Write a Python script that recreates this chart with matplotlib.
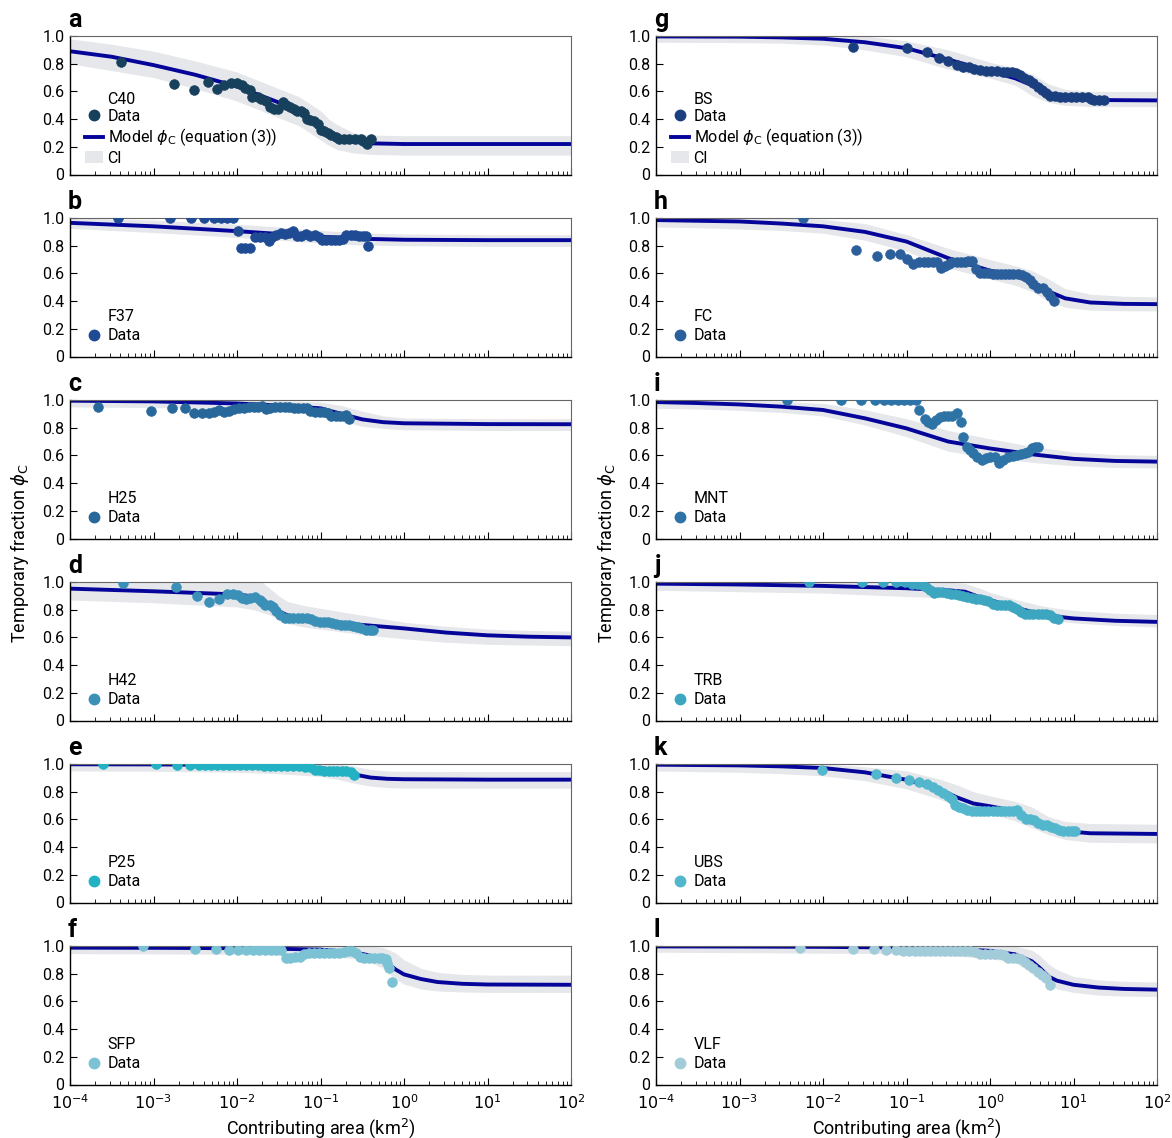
import numpy as np
import matplotlib
matplotlib.use('Agg')
import matplotlib.pyplot as plt
from matplotlib.lines import Line2D
from matplotlib.patches import Patch
from matplotlib.ticker import FixedLocator, NullFormatter

plt.rcParams['font.family'] = ['Roboto', 'DejaVu Sans']
plt.rcParams['mathtext.fontset'] = 'dejavusans'

# ---- data: log10 of contributing area (km2) and temporary fraction ----
a_logA = [-3.39, -2.76, -2.51, -2.35, -2.24, -2.15, -2.07, -2.00, -1.94, -1.90, -1.85, -1.82, -1.75, -1.71,
          -1.65, -1.60, -1.56, -1.51, -1.45, -1.41, -1.36, -1.32, -1.28, -1.23, -1.20, -1.16, -1.12, -1.08,
          -1.03, -1.00, -0.96, -0.91, -0.87, -0.82, -0.78, -0.72, -0.66, -0.59, -0.52, -0.49, -0.44, -0.40]
a_phi = [0.815, 0.655, 0.607, 0.67, 0.62, 0.647, 0.664, 0.66, 0.643, 0.628, 0.61, 0.56, 0.563, 0.547,
         0.528, 0.484, 0.475, 0.472, 0.523, 0.504, 0.49, 0.475, 0.456, 0.456, 0.444, 0.403, 0.396, 0.384,
         0.365, 0.324, 0.312, 0.297, 0.283, 0.269, 0.259, 0.259, 0.259, 0.259, 0.259, 0.24, 0.223, 0.254]

b_logA = [-3.43, -2.80, -2.55, -2.40, -2.28, -2.19, -2.12, -2.05, -1.99, -1.95, -1.90, -1.85, -1.79, -1.72,
          -1.67, -1.62, -1.58, -1.53, -1.47, -1.43, -1.38, -1.33, -1.28, -1.23, -1.17, -1.12, -1.06, -1.02,
          -0.98, -0.93, -0.88, -0.83, -0.78, -0.73, -0.69, -0.64, -0.59, -0.54, -0.49, -0.45, -0.43]
b_phi = [1.0, 1.0, 1.0, 1.0, 1.0, 1.0, 1.0, 1.0, 0.909, 0.784, 0.784, 0.784, 0.861, 0.861,
         0.861, 0.837, 0.866, 0.88, 0.892, 0.887, 0.892, 0.904, 0.868, 0.873, 0.887, 0.873, 0.88, 0.861,
         0.844, 0.844, 0.844, 0.844, 0.844, 0.851, 0.88, 0.88, 0.88, 0.868, 0.868, 0.868, 0.80]

c_logA = [-3.66, -3.03, -2.78, -2.62, -2.51, -2.42, -2.34, -2.28, -2.22, -2.16, -2.10, -2.04, -1.98, -1.92,
          -1.86, -1.80, -1.75, -1.70, -1.65, -1.60, -1.54, -1.48, -1.43, -1.38, -1.32, -1.27, -1.21, -1.16,
          -1.12, -1.07, -1.01, -0.96, -0.91, -0.87, -0.82, -0.77, -0.72, -0.69, -0.66]
c_phi = [0.947, 0.92, 0.945, 0.945, 0.904, 0.904, 0.904, 0.916, 0.928, 0.91, 0.92, 0.935, 0.94, 0.945,
         0.947, 0.95, 0.952, 0.954, 0.935, 0.942, 0.947, 0.949, 0.949, 0.947, 0.94, 0.94, 0.94, 0.94,
         0.923, 0.916, 0.916, 0.916, 0.908, 0.887, 0.887, 0.887, 0.887, 0.89, 0.86]

d_logA = [-3.37, -2.73, -2.48, -2.33, -2.21, -2.12, -2.05, -1.99, -1.94, -1.89, -1.84, -1.79, -1.73, -1.70,
          -1.66, -1.61, -1.57, -1.53, -1.48, -1.43, -1.38, -1.33, -1.27, -1.22, -1.16, -1.11, -1.06, -1.01,
          -0.96, -0.91, -0.86, -0.81, -0.76, -0.71, -0.66, -0.61, -0.56, -0.51, -0.46, -0.41, -0.37]
d_phi = [0.995, 0.966, 0.899, 0.856, 0.88, 0.916, 0.916, 0.906, 0.885, 0.88, 0.887, 0.892, 0.873, 0.856,
         0.837, 0.832, 0.822, 0.788, 0.764, 0.743, 0.742, 0.742, 0.742, 0.742, 0.742, 0.733, 0.721, 0.711,
         0.711, 0.711, 0.704, 0.697, 0.692, 0.688, 0.688, 0.68, 0.675, 0.67, 0.656, 0.654, 0.654]

e_logA = [-3.60, -2.97, -2.72, -2.56, -2.45, -2.38, -2.31, -2.24, -2.17, -2.10, -2.03, -1.96, -1.89, -1.82,
          -1.75, -1.68, -1.61, -1.54, -1.47, -1.40, -1.33, -1.26, -1.19, -1.12, -1.07, -1.02, -0.96, -0.90,
          -0.85, -0.80, -0.74, -0.69, -0.64, -0.60]
e_phi = [1.0, 1.0, 0.995, 0.995, 0.995, 0.995, 0.995, 0.995, 0.995, 0.995, 0.995, 0.995, 0.99, 0.99,
         0.99, 0.988, 0.988, 0.986, 0.986, 0.984, 0.984, 0.982, 0.98, 0.976, 0.959, 0.954, 0.952, 0.947,
         0.947, 0.947, 0.947, 0.947, 0.942, 0.923]

f_logA = [-3.13, -2.50, -2.25, -2.10, -1.99, -1.89, -1.81, -1.74, -1.66, -1.59, -1.53, -1.47, -1.41, -1.36,
          -1.30, -1.24, -1.20, -1.14, -1.08, -1.02, -0.96, -0.90, -0.84, -0.78, -0.72, -0.67, -0.62, -0.58,
          -0.53, -0.48, -0.42, -0.36, -0.30, -0.26, -0.22, -0.20, -0.18, -0.14]
f_phi = [1.0, 0.976, 0.976, 0.969, 0.971, 0.971, 0.971, 0.971, 0.971, 0.971, 0.971, 0.971, 0.915, 0.915,
         0.92, 0.92, 0.942, 0.949, 0.952, 0.952, 0.952, 0.952, 0.952, 0.952, 0.956, 0.961, 0.964, 0.952,
         0.923, 0.915, 0.915, 0.915, 0.915, 0.915, 0.903, 0.879, 0.838, 0.738]

g_logA = [-1.64, -1.00, -0.76, -0.61, -0.50, -0.39, -0.32, -0.25, -0.19, -0.12, -0.05, 0.01, 0.08, 0.15,
          0.20, 0.26, 0.31, 0.36, 0.41, 0.47, 0.51, 0.57, 0.62, 0.67, 0.72, 0.78, 0.84, 0.90,
          0.97, 1.03, 1.10, 1.17, 1.21, 1.25, 1.31, 1.37]
g_phi = [0.921, 0.916, 0.887, 0.839, 0.82, 0.791, 0.779, 0.779, 0.763, 0.755, 0.748, 0.748, 0.748, 0.743,
         0.743, 0.739, 0.731, 0.719, 0.70, 0.683, 0.659, 0.635, 0.611, 0.588, 0.568, 0.564, 0.559, 0.556,
         0.556, 0.556, 0.556, 0.556, 0.547, 0.535, 0.535, 0.535]

h_logA = [-2.24, -1.60, -1.35, -1.20, -1.08, -0.99, -0.92, -0.85, -0.79, -0.74, -0.68, -0.63, -0.59, -0.54,
          -0.49, -0.45, -0.40, -0.35, -0.30, -0.26, -0.21, -0.17, -0.12, -0.07, -0.02, 0.03, 0.08, 0.13,
          0.18, 0.23, 0.28, 0.33, 0.38, 0.43, 0.48, 0.52, 0.57, 0.64, 0.68, 0.72, 0.77]
h_phi = [1.0, 0.766, 0.729, 0.742, 0.742, 0.705, 0.669, 0.679, 0.679, 0.679, 0.679, 0.679, 0.64, 0.657,
         0.669, 0.684, 0.684, 0.684, 0.684, 0.693, 0.688, 0.633, 0.601, 0.606, 0.606, 0.597, 0.597, 0.597,
         0.597, 0.597, 0.597, 0.597, 0.592, 0.577, 0.553, 0.524, 0.495, 0.495, 0.464, 0.44, 0.399]

i_logA = [-2.43, -1.79, -1.54, -1.38, -1.27, -1.18, -1.10, -1.03, -0.96, -0.89, -0.85, -0.78, -0.74, -0.69,
          -0.65, -0.60, -0.55, -0.50, -0.45, -0.40, -0.35, -0.32, -0.28, -0.24, -0.20, -0.15, -0.10, -0.05,
          0.00, 0.06, 0.11, 0.16, 0.21, 0.27, 0.32, 0.37, 0.42, 0.46, 0.50, 0.54, 0.58]
i_phi = [1.0, 1.0, 1.0, 1.0, 1.0, 1.0, 1.0, 1.0, 1.0, 1.0, 0.928, 0.863, 0.843, 0.829,
         0.855, 0.875, 0.887, 0.887, 0.887, 0.904, 0.843, 0.73, 0.663, 0.639, 0.614, 0.59, 0.566, 0.583,
         0.59, 0.59, 0.542, 0.566, 0.59, 0.595, 0.602, 0.607, 0.614, 0.627, 0.651, 0.658, 0.658]

j_logA = [-2.17, -1.53, -1.28, -1.13, -1.02, -0.94, -0.88, -0.82, -0.77, -0.72, -0.67, -0.62, -0.57, -0.52,
          -0.47, -0.42, -0.37, -0.32, -0.27, -0.22, -0.17, -0.12, -0.07, -0.02, 0.03, 0.08, 0.13, 0.18,
          0.23, 0.28, 0.32, 0.37, 0.42, 0.47, 0.52, 0.57, 0.62, 0.67, 0.72, 0.77, 0.82]
j_phi = [1.0, 1.0, 1.0, 1.0, 1.0, 0.988, 0.988, 0.98, 0.964, 0.94, 0.923, 0.928, 0.928, 0.92,
         0.916, 0.911, 0.908, 0.899, 0.892, 0.884, 0.88, 0.875, 0.867, 0.86, 0.843, 0.831, 0.831, 0.831,
         0.831, 0.819, 0.802, 0.783, 0.766, 0.766, 0.766, 0.766, 0.766, 0.766, 0.759, 0.742, 0.735]

k_logA = [-2.01, -1.37, -1.12, -0.97, -0.85, -0.76, -0.68, -0.62, -0.56, -0.50, -0.46, -0.42, -0.37, -0.32,
          -0.27, -0.22, -0.17, -0.12, -0.07, -0.02, 0.03, 0.08, 0.13, 0.18, 0.23, 0.28, 0.32, 0.37,
          0.43, 0.48, 0.53, 0.58, 0.63, 0.68, 0.73, 0.78, 0.83, 0.88, 0.93, 0.98, 1.02]
k_phi = [0.959, 0.928, 0.899, 0.886, 0.87, 0.855, 0.831, 0.809, 0.79, 0.766, 0.749, 0.705, 0.686, 0.681,
         0.669, 0.662, 0.662, 0.662, 0.662, 0.662, 0.662, 0.662, 0.662, 0.662, 0.662, 0.662, 0.669, 0.633,
         0.604, 0.604, 0.597, 0.572, 0.556, 0.556, 0.548, 0.536, 0.524, 0.517, 0.517, 0.515, 0.515]

l_logA = [-2.27, -1.64, -1.39, -1.24, -1.13, -1.04, -0.97, -0.90, -0.84, -0.78, -0.72, -0.66, -0.60, -0.54,
          -0.48, -0.42, -0.36, -0.30, -0.24, -0.18, -0.12, -0.06, 0.00, 0.06, 0.12, 0.17, 0.22, 0.27,
          0.32, 0.37, 0.42, 0.47, 0.52, 0.57, 0.62, 0.67, 0.72]
l_phi = [0.988, 0.976, 0.976, 0.971, 0.971, 0.964, 0.964, 0.964, 0.964, 0.964, 0.964, 0.964, 0.964, 0.964,
         0.964, 0.964, 0.964, 0.964, 0.964, 0.959, 0.944, 0.944, 0.944, 0.944, 0.944, 0.935, 0.915, 0.915,
         0.915, 0.908, 0.886, 0.86, 0.838, 0.814, 0.794, 0.77, 0.722]

# ---- model curve (equation (3)) and CI, read at log10 area knots ----
a_knots = [-4, -3.5, -3, -2.5, -2, -1.5, -1.25, -1.1, -1, -0.9, -0.8, -0.6, -0.4, 0, 1, 2]
a_model = [0.89, 0.85, 0.79, 0.72, 0.635, 0.52, 0.455, 0.40, 0.35, 0.30, 0.265, 0.235, 0.225, 0.22, 0.22, 0.22]
a_hi = [0.98, 0.94, 0.89, 0.82, 0.74, 0.62, 0.56, 0.50, 0.46, 0.40, 0.36, 0.30, 0.285, 0.28, 0.28, 0.28]
a_lo = [0.80, 0.75, 0.70, 0.62, 0.53, 0.41, 0.35, 0.29, 0.25, 0.21, 0.18, 0.155, 0.145, 0.14, 0.14, 0.14]

b_knots = [-4, -3, -2, -1.5, -1, -0.5, 0, 1, 2]
b_model = [0.965, 0.94, 0.905, 0.885, 0.865, 0.85, 0.843, 0.84, 0.84]
b_hi = [1.0, 0.985, 0.955, 0.935, 0.91, 0.893, 0.885, 0.88, 0.88]
b_lo = [0.925, 0.895, 0.86, 0.84, 0.82, 0.805, 0.80, 0.795, 0.795]

c_knots = [-4, -3, -2, -1.5, -1, -0.75, -0.5, -0.25, 0, 1, 2]
c_model = [0.995, 0.99, 0.975, 0.96, 0.94, 0.90, 0.86, 0.84, 0.832, 0.826, 0.825]
c_hi = [1.0, 1.0, 1.0, 0.995, 0.985, 0.96, 0.92, 0.885, 0.87, 0.865, 0.865]
c_lo = [0.95, 0.945, 0.935, 0.92, 0.895, 0.85, 0.81, 0.795, 0.785, 0.78, 0.78]

d_knots = [-4, -3, -2, -1.8, -1.7, -1.6, -1.5, -1.4, -1.2, -1, -0.5, 0, 0.5, 1, 1.5, 2]
d_model = [0.952, 0.933, 0.91, 0.895, 0.875, 0.835, 0.79, 0.76, 0.735, 0.722, 0.69, 0.665, 0.635, 0.615, 0.605, 0.60]
d_hi = [1.0, 1.0, 1.0, 1.0, 1.0, 0.95, 0.9, 0.86, 0.83, 0.81, 0.76, 0.71, 0.68, 0.66, 0.65, 0.645]
d_lo = [0.87, 0.85, 0.82, 0.80, 0.78, 0.76, 0.73, 0.70, 0.675, 0.66, 0.62, 0.59, 0.565, 0.55, 0.545, 0.54]

e_knots = [-4, -3, -2, -1.5, -1, -0.8, -0.6, -0.4, -0.2, 0, 1, 2]
e_model = [0.998, 0.997, 0.993, 0.985, 0.97, 0.955, 0.925, 0.902, 0.893, 0.89, 0.887, 0.887]
e_hi = [1.0, 1.0, 1.0, 1.0, 1.0, 1.0, 0.985, 0.96, 0.95, 0.947, 0.945, 0.945]
e_lo = [0.95, 0.948, 0.94, 0.93, 0.91, 0.89, 0.862, 0.84, 0.83, 0.826, 0.825, 0.825]

f_knots = [-4, -3, -2, -1.5, -1, -0.6, -0.4, -0.25, -0.1, 0, 0.2, 0.4, 0.7, 1, 2]
f_model = [0.988, 0.987, 0.984, 0.98, 0.974, 0.955, 0.93, 0.9, 0.83, 0.795, 0.762, 0.74, 0.727, 0.722, 0.72]
f_hi = [1.0, 1.0, 1.0, 1.0, 1.0, 1.0, 1.0, 0.99, 0.95, 0.9, 0.84, 0.81, 0.795, 0.79, 0.79]
f_lo = [0.945, 0.943, 0.94, 0.935, 0.925, 0.91, 0.88, 0.84, 0.76, 0.725, 0.69, 0.675, 0.668, 0.665, 0.665]

g_knots = [-4, -3, -2.5, -2, -1.5, -1, -0.5, 0, 0.3, 0.5, 0.7, 0.9, 1.2, 2]
g_model = [0.997, 0.995, 0.99, 0.98, 0.955, 0.912, 0.83, 0.745, 0.695, 0.645, 0.575, 0.548, 0.538, 0.535]
g_hi = [1.0, 1.0, 1.0, 1.0, 1.0, 0.965, 0.9, 0.81, 0.77, 0.725, 0.655, 0.615, 0.60, 0.60]
g_lo = [0.955, 0.952, 0.948, 0.935, 0.90, 0.85, 0.76, 0.695, 0.645, 0.57, 0.52, 0.50, 0.49, 0.49]

h_knots = [-4, -3.5, -3, -2.5, -2, -1.5, -1, -0.5, 0, 0.3, 0.5, 0.7, 0.9, 1.2, 1.6, 2]
h_model = [0.985, 0.98, 0.975, 0.96, 0.94, 0.90, 0.83, 0.71, 0.62, 0.585, 0.545, 0.47, 0.42, 0.39, 0.38, 0.378]
h_hi = [1.0, 1.0, 1.0, 1.0, 0.99, 0.96, 0.88, 0.78, 0.70, 0.655, 0.62, 0.56, 0.49, 0.45, 0.435, 0.43]
h_lo = [0.935, 0.93, 0.92, 0.91, 0.89, 0.84, 0.76, 0.64, 0.56, 0.515, 0.47, 0.40, 0.355, 0.335, 0.33, 0.33]

i_knots = [-4, -3.5, -3, -2.5, -2, -1.5, -1, -0.5, 0, 0.5, 1, 1.5, 2]
i_model = [0.985, 0.978, 0.968, 0.952, 0.928, 0.868, 0.795, 0.70, 0.65, 0.608, 0.575, 0.56, 0.555]
i_hi = [1.0, 1.0, 1.0, 0.99, 0.975, 0.93, 0.865, 0.78, 0.72, 0.665, 0.625, 0.605, 0.60]
i_lo = [0.94, 0.935, 0.925, 0.91, 0.885, 0.82, 0.735, 0.63, 0.585, 0.55, 0.525, 0.512, 0.51]

j_knots = [-4, -3, -2, -1, -0.5, -0.3, -0.1, 0, 0.2, 0.4, 0.6, 0.8, 1, 1.5, 2]
j_model = [0.988, 0.982, 0.972, 0.955, 0.94, 0.93, 0.885, 0.87, 0.835, 0.80, 0.77, 0.75, 0.737, 0.72, 0.712]
j_hi = [1.0, 1.0, 1.0, 1.0, 1.0, 0.99, 0.95, 0.925, 0.89, 0.86, 0.83, 0.81, 0.795, 0.775, 0.765]
j_lo = [0.94, 0.93, 0.92, 0.895, 0.885, 0.875, 0.85, 0.83, 0.79, 0.76, 0.735, 0.72, 0.705, 0.685, 0.675]

k_knots = [-4, -3, -2.5, -2, -1.5, -1, -0.6, -0.4, -0.2, 0, 0.3, 0.5, 0.7, 0.9, 1.2, 2]
k_model = [0.995, 0.99, 0.983, 0.971, 0.94, 0.886, 0.815, 0.76, 0.715, 0.695, 0.66, 0.605, 0.55, 0.515, 0.50, 0.495]
k_hi = [1.0, 1.0, 1.0, 1.0, 0.98, 0.95, 0.89, 0.85, 0.80, 0.77, 0.73, 0.69, 0.62, 0.585, 0.57, 0.565]
k_lo = [0.95, 0.94, 0.93, 0.915, 0.88, 0.82, 0.745, 0.70, 0.66, 0.64, 0.59, 0.54, 0.49, 0.455, 0.435, 0.43]

l_knots = [-4, -3, -2, -1, -0.5, 0, 0.3, 0.5, 0.6, 0.7, 0.8, 1, 1.3, 1.6, 2]
l_model = [0.997, 0.996, 0.994, 0.988, 0.98, 0.965, 0.94, 0.89, 0.84, 0.78, 0.75, 0.72, 0.70, 0.69, 0.685]
l_hi = [1.0, 1.0, 1.0, 1.0, 1.0, 1.0, 1.0, 0.97, 0.93, 0.87, 0.83, 0.78, 0.755, 0.745, 0.74]
l_lo = [0.955, 0.952, 0.948, 0.945, 0.93, 0.91, 0.88, 0.81, 0.765, 0.72, 0.69, 0.665, 0.645, 0.638, 0.635]

letters = ['a', 'b', 'c', 'd', 'e', 'f', 'g', 'h', 'i', 'j', 'k', 'l']
sites = ['C40', 'F37', 'H25', 'H42', 'P25', 'SFP', 'BS', 'FC', 'MNT', 'TRB', 'UBS', 'VLF']
site_colors = ['#17405d', '#1f4a94', '#28679a', '#3b90b8', '#22b2c4', '#7cc2d5',
               '#1b3f7e', '#2a5f9b', '#2e73a6', '#3ca6c1', '#52b6cd', '#a3ccda']
x_ticks = [1e-4, 1e-3, 1e-2, 1e-1, 1e0, 1e1, 1e2]
x_ticklabels = [r'$10^{-4}$', r'$10^{-3}$', r'$10^{-2}$', r'$10^{-1}$', r'$10^{0}$', r'$10^{1}$', r'$10^{2}$']
y_ticks = [0, 0.2, 0.4, 0.6, 0.8, 1.0]
y_ticklabels = ['0', '0.2', '0.4', '0.6', '0.8', '1.0']

MODEL_COLOR = '#05059a'
CI_COLOR = '#e6e7ea'

panels = [
    (a_logA, a_phi, a_knots, a_model, a_lo, a_hi),
    (b_logA, b_phi, b_knots, b_model, b_lo, b_hi),
    (c_logA, c_phi, c_knots, c_model, c_lo, c_hi),
    (d_logA, d_phi, d_knots, d_model, d_lo, d_hi),
    (e_logA, e_phi, e_knots, e_model, e_lo, e_hi),
    (f_logA, f_phi, f_knots, f_model, f_lo, f_hi),
    (g_logA, g_phi, g_knots, g_model, g_lo, g_hi),
    (h_logA, h_phi, h_knots, h_model, h_lo, h_hi),
    (i_logA, i_phi, i_knots, i_model, i_lo, i_hi),
    (j_logA, j_phi, j_knots, j_model, j_lo, j_hi),
    (k_logA, k_phi, k_knots, k_model, k_lo, k_hi),
    (l_logA, l_phi, l_knots, l_model, l_lo, l_hi),
]

W, H = 1172, 1138
fig = plt.figure(figsize=(W / 100, H / 100), dpi=100)

col_left = [70, 656]
col_width = 501
row_top = [36, 218, 400, 582, 764, 946]
row_height = 138.5
minor_ticks = [m * 10.0 ** e for e in range(-4, 2) for m in range(2, 10)]


def draw_panel(ax, n):
    logA, phi, knots, model, lo, hi = panels[n]
    col = site_colors[n]
    area = 10.0 ** np.array(logA)
    kx = 10.0 ** np.array(knots)

    ax.fill_between(kx, lo, hi, color=CI_COLOR, lw=0, zorder=1)
    ax.plot(kx, model, color=MODEL_COLOR, lw=2.8, zorder=2, solid_capstyle='butt')
    ax.scatter(area, phi, s=50, color=col, edgecolor=col, linewidth=0.4, zorder=3)

    ax.set_xscale('log')
    ax.set_xlim(1e-4, 1e2)
    ax.set_ylim(0, 1.0)
    ax.set_yticks(y_ticks, y_ticklabels)
    ax.set_xticks(x_ticks, x_ticklabels)
    ax.xaxis.set_minor_locator(FixedLocator(minor_ticks))
    ax.xaxis.set_minor_formatter(NullFormatter())
    ax.tick_params(axis='both', which='major', direction='in', length=5, width=0.8,
                   labelsize=11.5, top=False, right=False)
    ax.tick_params(axis='x', which='major', pad=6)
    ax.tick_params(axis='y', which='major', pad=4)
    ax.tick_params(axis='x', which='minor', direction='in', length=2.8, width=0.6, top=False)
    if n not in (5, 11):
        ax.tick_params(axis='x', which='both', labelbottom=False)

    for side in ('left', 'bottom'):
        ax.spines[side].set_color('black')
        ax.spines[side].set_linewidth(1.0)
    for side in ('top', 'right'):
        ax.spines[side].set_color('#666666')
        ax.spines[side].set_linewidth(0.8)

    ax.text(-0.004, 1.03, letters[n], transform=ax.transAxes, ha='left', va='bottom',
            fontsize=18, fontweight='bold')

    # legend: site name sits in the label column, like a title
    handles = [Line2D([], [], lw=0, alpha=0),
               Line2D([], [], lw=0, marker='o', markersize=7.5, color=col)]
    labels = [sites[n], 'Data']
    if n in (0, 6):
        handles += [Line2D([], [], color=MODEL_COLOR, lw=2.8),
                    Patch(facecolor=CI_COLOR, edgecolor='none')]
        labels += [r'Model $\phi_{\mathrm{C}}$ (equation (3))', 'CI']
        anchor_y, spacing = -0.045, 0.15
    else:
        anchor_y, spacing = -0.015, 0.27
    ax.legend(handles, labels, loc='lower left', bbox_to_anchor=(0.0, anchor_y), frameon=False,
              fontsize=11.5, handlelength=1.1, handletextpad=0.3, labelspacing=spacing,
              borderaxespad=0.5, borderpad=0.45)


for n in range(12):
    c = n // 6
    r = n % 6
    left = col_left[c] / W
    bottom = 1 - (row_top[r] + row_height) / H
    ax = fig.add_axes([left, bottom, col_width / W, row_height / H])
    draw_panel(ax, n)

for c in range(2):
    fig.text((col_left[c] - 50) / W, 1 - 553 / H, r'Temporary fraction $\phi_{\mathrm{C}}$',
             rotation=90, ha='center', va='center', fontsize=13)
    fig.text((col_left[c] + col_width / 2) / W, 1 - 1128 / H, r'Contributing area (km$^2$)',
             ha='center', va='center', fontsize=13)

fig.savefig('out.png', dpi=100)
